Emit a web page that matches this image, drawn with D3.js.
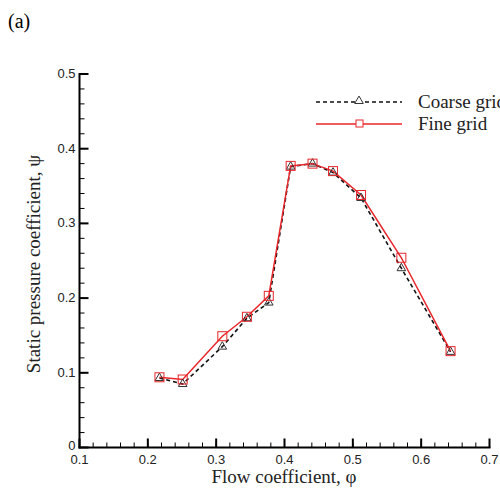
<!DOCTYPE html>
<html><head><meta charset="utf-8">
<script src="https://cdn.jsdelivr.net/npm/d3@7"></script>
<style>body{margin:0;background:#fff}</style>
</head><body>
<svg id="c" width="500" height="489"></svg>
<script>
const flowCoef = [0.217, 0.251, 0.309, 0.345, 0.377, 0.409, 0.441, 0.471, 0.512, 0.571, 0.643];
const coarseGrid = [0.093, 0.085, 0.135, 0.173, 0.194, 0.376, 0.380, 0.368, 0.334, 0.240, 0.128];
const fineGrid = [0.094, 0.091, 0.149, 0.175, 0.203, 0.377, 0.380, 0.370, 0.338, 0.254, 0.129];
const xTicks = [0.1, 0.2, 0.3, 0.4, 0.5, 0.6, 0.7];
const yTicks = [0, 0.1, 0.2, 0.3, 0.4, 0.5];
const seriesNames = ["Coarse grid", "Fine grid"];

const svg = d3.select("#c");
const x = d3.scaleLinear().domain([0.1, 0.7]).range([79.5, 489.5]);
const y = d3.scaleLinear().domain([0, 0.5]).range([447.5, 74]);

svg.append("text").attr("x", 8).attr("y", 28).attr("font-family", "Liberation Serif")
  .attr("font-size", 20).text("(a)");

// minor ticks
const xMinor = d3.range(0.1, 0.7001, 0.02);
const yMinor = d3.range(0, 0.5001, 0.02);
const g = svg.append("g");
g.selectAll(".xm").data(xMinor).join("line")
  .attr("x1", d => x(d)).attr("x2", d => x(d)).attr("y1", y(0)).attr("y2", y(0) - 5)
  .attr("stroke", "#000").attr("stroke-width", 1);
g.selectAll(".ym").data(yMinor).join("line")
  .attr("y1", d => y(d)).attr("y2", d => y(d)).attr("x1", x(0.1)).attr("x2", x(0.1) + 5)
  .attr("stroke", "#000").attr("stroke-width", 1);
// major ticks
g.selectAll(".xM").data(xTicks).join("line")
  .attr("x1", d => x(d)).attr("x2", d => x(d)).attr("y1", y(0)).attr("y2", y(0) - 9)
  .attr("stroke", "#000").attr("stroke-width", 2);
g.selectAll(".yM").data(yTicks).join("line")
  .attr("y1", d => y(d)).attr("y2", d => y(d)).attr("x1", x(0.1)).attr("x2", x(0.1) + 9)
  .attr("stroke", "#000").attr("stroke-width", 2);
// axis lines
g.append("line").attr("x1", x(0.1)).attr("x2", x(0.1)).attr("y1", y(0) + 1).attr("y2", y(0.5) - 1)
  .attr("stroke", "#000").attr("stroke-width", 2);
g.append("line").attr("x1", x(0.1) - 1).attr("x2", x(0.7) + 1).attr("y1", y(0)).attr("y2", y(0))
  .attr("stroke", "#000").attr("stroke-width", 2);

// tick labels
g.selectAll(".xl").data(xTicks).join("text")
  .attr("x", d => x(d)).attr("y", y(0) + 16).attr("text-anchor", "middle")
  .attr("font-family", "Liberation Sans").attr("font-size", 13).attr("fill", "#222")
  .text(d => d.toFixed(1));
g.selectAll(".yl").data(yTicks).join("text")
  .attr("x", x(0.1) - 4).attr("y", d => d === 0 ? y(d) + 2 : y(d) + 4).attr("text-anchor", "end")
  .attr("font-family", "Liberation Sans").attr("font-size", 13).attr("fill", "#222")
  .text(d => d === 0 ? "0" : d.toFixed(1));

// axis titles
svg.append("text").attr("x", 284).attr("y", 483).attr("text-anchor", "middle")
  .attr("font-family", "Liberation Serif").attr("font-size", 19).attr("fill", "#222")
  .text("Flow coefficient, φ");
svg.append("text").attr("transform", "translate(40,264) rotate(-90)").attr("text-anchor", "middle")
  .attr("font-family", "Liberation Serif").attr("font-size", 19).attr("fill", "#222")
  .text("Static pressure coefficient, ψ");

const red = "#e8262b";
const line = d3.line().x(d => x(d[0])).y(d => y(d[1]));
const cData = flowCoef.map((f, i) => [f, coarseGrid[i]]);
const fData = flowCoef.map((f, i) => [f, fineGrid[i]]);

svg.append("path").datum(cData).attr("d", line).attr("fill", "none")
  .attr("stroke", "#111").attr("stroke-width", 1.6).attr("stroke-dasharray", "4,3");
svg.append("path").datum(fData).attr("d", line).attr("fill", "none")
  .attr("stroke", red).attr("stroke-width", 1.5);

const tri = d3.symbol().type(d3.symbolTriangle).size(32);
svg.selectAll(".tri").data(cData).join("path")
  .attr("d", tri).attr("transform", d => `translate(${x(d[0])},${y(d[1])})`)
  .attr("fill", "none").attr("stroke", "#333").attr("stroke-width", 1);
svg.selectAll(".sq").data(fData).join("rect")
  .attr("x", d => x(d[0]) - 4.5).attr("y", d => y(d[1]) - 4.5).attr("width", 9).attr("height", 9)
  .attr("fill", "none").attr("stroke", red).attr("stroke-width", 1);

// legend
const lg = svg.append("g");
const ly = [102, 124];
lg.append("line").attr("x1", 316).attr("x2", 402).attr("y1", ly[0]).attr("y2", ly[0])
  .attr("stroke", "#111").attr("stroke-width", 1.6).attr("stroke-dasharray", "4,3");
lg.append("path").attr("d", tri).attr("transform", `translate(359,${ly[0] - 1})`)
  .attr("fill", "#fff").attr("stroke", "#333").attr("stroke-width", 1);
lg.append("line").attr("x1", 316).attr("x2", 402).attr("y1", ly[1]).attr("y2", ly[1])
  .attr("stroke", red).attr("stroke-width", 1.5);
lg.append("rect").attr("x", 356).attr("y", ly[1] - 4).attr("width", 7).attr("height", 7)
  .attr("fill", "#fff").attr("stroke", red).attr("stroke-width", 1);
lg.selectAll(".lt").data(seriesNames).join("text")
  .attr("x", 418).attr("y", (d, i) => ly[i] + 6)
  .attr("font-family", "Liberation Serif").attr("font-size", 19).attr("fill", "#222")
  .text(d => d);
</script>
</body></html>
